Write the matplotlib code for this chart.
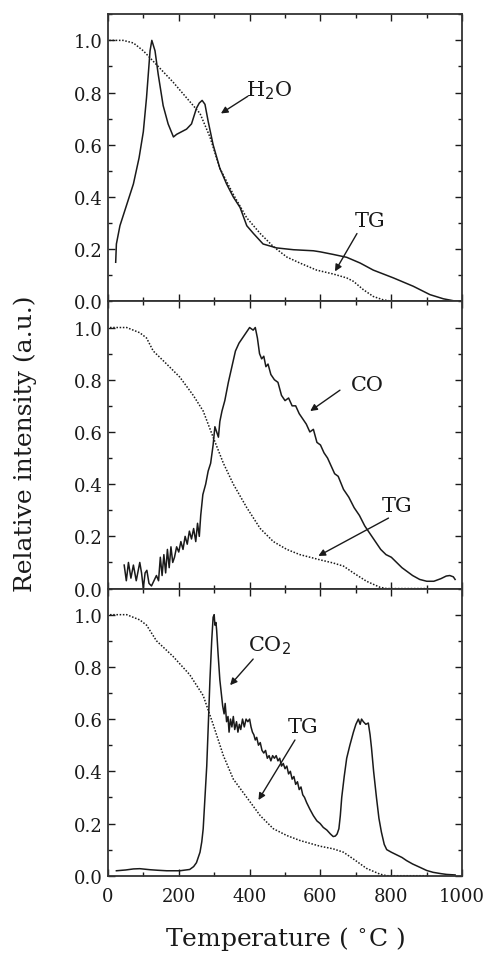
import numpy as np
import matplotlib
matplotlib.use("Agg")
import matplotlib.pyplot as plt
from matplotlib.ticker import MultipleLocator

plt.rcParams['font.family'] = ['DejaVu Serif']

# --- data ---
h2o_t = [22, 24, 34, 53, 72, 88, 100, 109, 119, 124, 133, 142, 156, 170, 185, 194, 208, 222, 236, 250,
         258, 266, 274, 283, 297, 316, 335, 354, 373, 392, 411, 438, 476, 524, 580, 599, 636, 674, 712, 749,
         806, 862, 909, 947, 985]
h2o_i = [0.15, 0.22, 0.29, 0.37, 0.45, 0.55, 0.65, 0.78, 0.96, 1.0, 0.96, 0.87, 0.75, 0.68, 0.63, 0.64, 0.65, 0.66, 0.68, 0.74,
         0.76, 0.77, 0.755, 0.69, 0.60, 0.51, 0.45, 0.40, 0.36, 0.29, 0.26, 0.22, 0.205, 0.198, 0.194, 0.19, 0.18, 0.169, 0.147, 0.12,
         0.09, 0.058, 0.026, 0.01, 0.0]

tg1_t = [4, 43, 72, 100, 128, 156, 184, 222, 260, 288, 316, 354, 392, 430, 467, 505, 542, 589, 636, 674,
         693, 721, 749, 777, 806, 900]
tg1_w = [1.0, 1.0, 0.99, 0.96, 0.92, 0.88, 0.84, 0.78, 0.72, 0.63, 0.51, 0.41, 0.32, 0.26, 0.21, 0.17, 0.147, 0.12, 0.105, 0.09,
         0.077, 0.045, 0.019, 0.006, 0.0, 0.0]

co_t = [46, 52, 58, 65, 72, 80, 90, 95, 100, 105, 110, 116, 123, 130, 137, 143, 148, 153, 158, 163,
        168, 173, 178, 183, 188, 194, 200, 206, 212, 218, 224, 230, 236, 242, 248, 253, 258, 262, 268, 276,
        283, 290, 297, 302, 307, 312, 316, 322, 330, 340, 350, 360, 370, 380, 390, 400, 410, 416, 422, 428,
        434, 440, 446, 452, 460, 470, 480, 490, 500, 510, 520, 530, 540, 550, 560, 570, 580, 590, 600, 610,
        620, 630, 640, 650, 665, 680, 695, 710, 725, 740, 755, 770, 785, 800, 815, 830, 845, 860, 880, 900,
        920, 940, 955, 965, 975, 980]
co_i = [0.09, 0.03, 0.10, 0.04, 0.09, 0.03, 0.10, 0.06, 0.0, 0.06, 0.07, 0.02, 0.01, 0.03, 0.05, 0.03, 0.12, 0.05, 0.13, 0.06,
        0.15, 0.08, 0.16, 0.10, 0.12, 0.16, 0.14, 0.18, 0.15, 0.20, 0.17, 0.22, 0.19, 0.23, 0.18, 0.25, 0.20, 0.28, 0.36, 0.40,
        0.45, 0.48, 0.55, 0.62, 0.60, 0.58, 0.64, 0.68, 0.72, 0.79, 0.85, 0.91, 0.94, 0.96, 0.98, 1.0, 0.99, 1.0, 0.96, 0.90,
        0.88, 0.89, 0.85, 0.86, 0.82, 0.80, 0.79, 0.74, 0.72, 0.73, 0.70, 0.70, 0.67, 0.65, 0.63, 0.60, 0.61, 0.56, 0.55, 0.52,
        0.50, 0.47, 0.44, 0.43, 0.38, 0.35, 0.31, 0.28, 0.24, 0.21, 0.18, 0.15, 0.13, 0.12, 0.10, 0.08, 0.065, 0.05, 0.035, 0.028,
        0.028, 0.038, 0.048, 0.05, 0.045, 0.035]

tg2_t = [6, 53, 90, 109, 128, 166, 203, 241, 269, 297, 326, 354, 392, 430, 467, 505, 542, 599, 636, 665,
         693, 730, 768, 787, 900]
tg2_w = [1.0, 1.0, 0.98, 0.96, 0.91, 0.86, 0.81, 0.74, 0.68, 0.58, 0.48, 0.40, 0.31, 0.23, 0.18, 0.15, 0.13, 0.11, 0.098, 0.086,
         0.06, 0.028, 0.005, 0.0, 0.0]

co2_t = [24, 50, 72, 90, 119, 140, 166, 203, 231, 242, 250, 260, 265, 269, 274, 279, 284, 288, 293, 297,
         300, 302, 305, 307, 311, 316, 320, 324, 328, 331, 335, 339, 342, 346, 350, 354, 358, 363, 367, 371,
         375, 380, 385, 390, 395, 400, 404, 408, 412, 416, 420, 425, 430, 435, 440, 445, 450, 455, 460, 465,
         470, 475, 480, 485, 490, 495, 500, 505, 510, 515, 520, 525, 530, 535, 540, 545, 550, 555, 561, 570,
         580, 590, 599, 608, 618, 628, 636, 642, 647, 652, 656, 660, 667, 674, 683, 693, 700, 707, 712, 716,
         721, 728, 735, 740, 744, 750, 758, 765, 772, 780, 787, 800, 815, 830, 843, 860, 881, 900, 918, 940,
         956, 980]
co2_i = [0.019, 0.022, 0.026, 0.027, 0.023, 0.021, 0.019, 0.019, 0.024, 0.035, 0.05, 0.09, 0.13, 0.18, 0.30, 0.42, 0.60, 0.75, 0.90, 0.99,
         1.0, 0.96, 0.97, 0.94, 0.85, 0.75, 0.70, 0.65, 0.62, 0.66, 0.59, 0.61, 0.55, 0.60, 0.57, 0.61, 0.56, 0.59, 0.55, 0.58,
         0.56, 0.60, 0.57, 0.60, 0.59, 0.60, 0.57, 0.55, 0.54, 0.52, 0.53, 0.50, 0.51, 0.48, 0.47, 0.48, 0.45, 0.46, 0.44, 0.46,
         0.45, 0.46, 0.44, 0.45, 0.42, 0.43, 0.41, 0.42, 0.39, 0.40, 0.37, 0.38, 0.35, 0.36, 0.33, 0.34, 0.31, 0.30, 0.28, 0.255,
         0.23, 0.21, 0.20, 0.185, 0.175, 0.16, 0.15, 0.152, 0.16, 0.18, 0.23, 0.30, 0.38, 0.45, 0.50, 0.55, 0.58, 0.60, 0.58, 0.60,
         0.59, 0.58, 0.585, 0.54, 0.49, 0.40, 0.30, 0.22, 0.167, 0.12, 0.10, 0.09, 0.08, 0.07, 0.058, 0.045, 0.032, 0.02, 0.013, 0.008,
         0.005, 0.003]

tg3_t = [6, 53, 90, 109, 137, 184, 231, 269, 297, 326, 354, 392, 430, 467, 505, 542, 599, 636, 665, 693,
         730, 768, 787, 900]
tg3_w = [1.0, 1.0, 0.98, 0.96, 0.90, 0.84, 0.77, 0.69, 0.58, 0.46, 0.37, 0.30, 0.23, 0.18, 0.154, 0.135, 0.113, 0.103, 0.09, 0.064,
         0.028, 0.006, 0.0, 0.0]

ink = '#1a1a1a'

fig, axes = plt.subplots(3, 1, sharex=True, figsize=(4.86, 9.54), dpi=100)
fig.subplots_adjust(left=0.222, right=0.951, bottom=0.081, top=0.984, hspace=0)

panels = [
    (h2o_t, h2o_i, tg1_t, tg1_w),
    (co_t, co_i, tg2_t, tg2_w),
    (co2_t, co2_i, tg3_t, tg3_w),
]

for ax, (gt, gi, tt, tw) in zip(axes, panels):
    ax.plot(gt, gi, color=ink, lw=1.1)
    ax.plot(tt, tw, color=ink, lw=1.1, linestyle=(0, (1, 1.1)))
    ax.set_xlim(0, 1000)
    ax.set_ylim(0, 1.1)
    ax.xaxis.set_major_locator(MultipleLocator(200))
    ax.xaxis.set_minor_locator(MultipleLocator(100))
    ax.yaxis.set_minor_locator(MultipleLocator(0.1))
    ax.tick_params(which='both', direction='in', top=True, right=True, labelsize=13, colors=ink)
    ax.tick_params(which='major', length=5, width=1)
    ax.tick_params(which='minor', length=3, width=1)
    ax.tick_params(axis='x', pad=8)
    ax.set_yticks([0, 0.2, 0.4, 0.6, 0.8, 1.0])
    ax.set_yticklabels(['0.0', '0.2', '0.4', '0.6', '0.8', '1.0'])
    for s in ax.spines.values():
        s.set_linewidth(1.3)
        s.set_color('#333333')

arrow = dict(arrowstyle='-|>', color=ink, lw=1.0, mutation_scale=10, shrinkA=0, shrinkB=0)
fs = 15

axes[0].text(455, 0.81, 'H$_2$O', fontsize=fs, ha='center', va='center', color=ink)
axes[0].annotate('', xy=(319, 0.72), xytext=(395, 0.786), arrowprops=arrow)
axes[0].text(740, 0.31, 'TG', fontsize=fs, ha='center', va='center', color=ink)
axes[0].annotate('', xy=(641, 0.115), xytext=(703, 0.26), arrowprops=arrow)

axes[1].text(731, 0.78, 'CO', fontsize=fs, ha='center', va='center', color=ink)
axes[1].annotate('', xy=(571, 0.68), xytext=(655, 0.76), arrowprops=arrow)
axes[1].text(816, 0.32, 'TG', fontsize=fs, ha='center', va='center', color=ink)
axes[1].annotate('', xy=(594, 0.125), xytext=(792, 0.27), arrowprops=arrow)

axes[2].text(457, 0.885, 'CO$_2$', fontsize=fs, ha='center', va='center', color=ink)
axes[2].annotate('', xy=(345, 0.73), xytext=(410, 0.83), arrowprops=arrow)
axes[2].text(552, 0.57, 'TG', fontsize=fs, ha='center', va='center', color=ink)
axes[2].annotate('', xy=(425, 0.29), xytext=(528, 0.52), arrowprops=arrow)

axes[2].set_xlabel('Temperature ( $^{\\circ}$C )', fontsize=18, color=ink, labelpad=14)
fig.text(0.052, 0.535, 'Relative intensity (a.u.)', rotation=90, fontsize=18,
         ha='center', va='center', color=ink)

fig.savefig('out.png', dpi=100)
